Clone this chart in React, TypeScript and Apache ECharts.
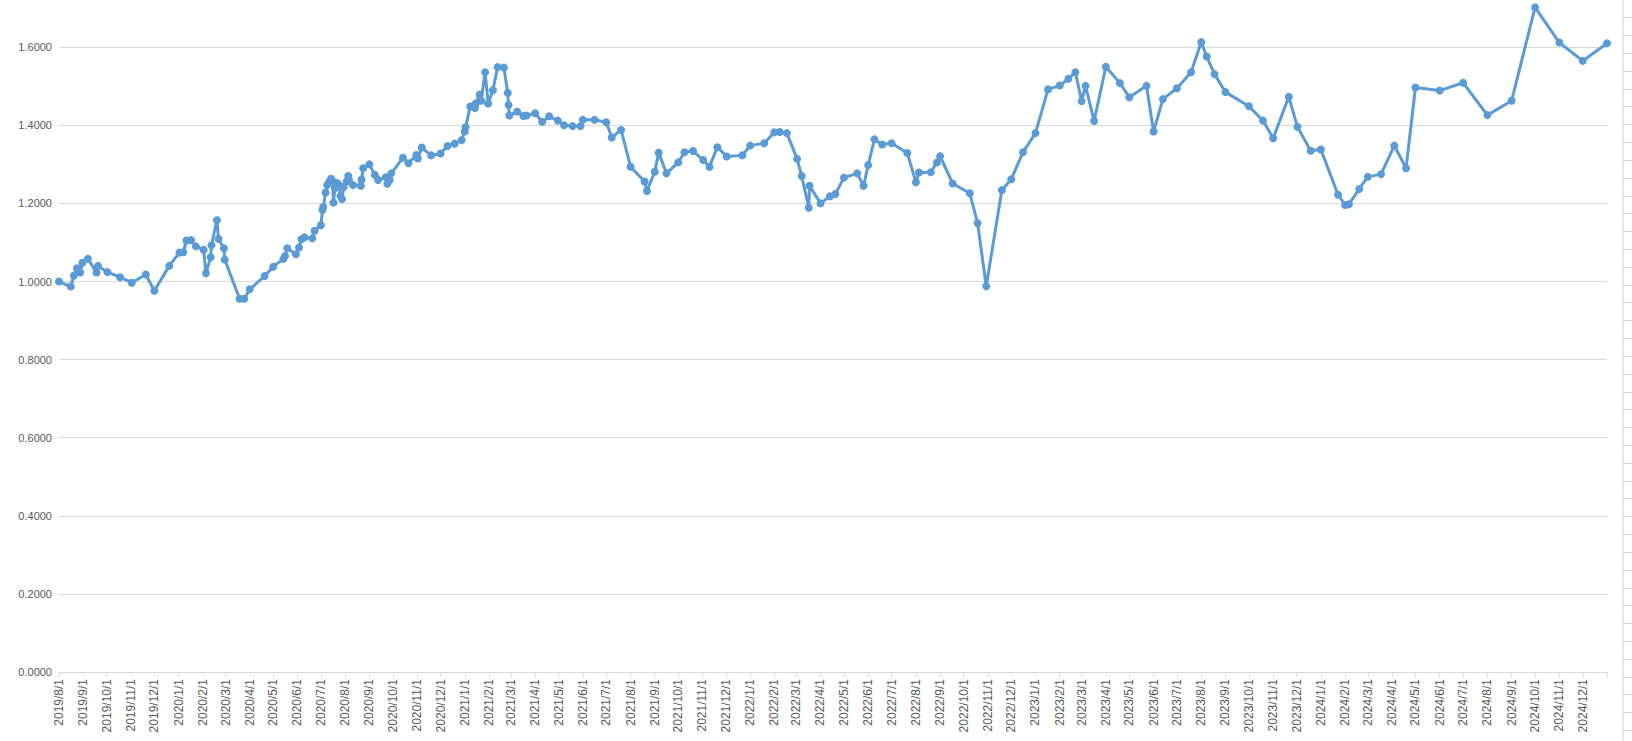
import React, { useEffect, useRef } from "react";
import * as echarts from "echarts";

const dates: string[] = [
  "2019-08-01","2019-08-16","2019-08-20","2019-08-24","2019-08-28","2019-08-31","2019-09-07","2019-09-18","2019-09-20","2019-10-02",
  "2019-10-18","2019-11-02","2019-11-20","2019-12-01","2019-12-20","2020-01-02","2020-01-07","2020-01-11","2020-01-17","2020-01-23",
  "2020-02-02","2020-02-05","2020-02-11","2020-02-12","2020-02-19","2020-02-21","2020-02-28","2020-02-29","2020-03-19","2020-03-25",
  "2020-04-01","2020-04-20","2020-05-01","2020-05-14","2020-05-16","2020-05-19","2020-05-30","2020-06-03","2020-06-06","2020-06-10",
  "2020-06-20","2020-06-23","2020-07-01","2020-07-03","2020-07-04","2020-07-07","2020-07-09","2020-07-12","2020-07-14","2020-07-16",
  "2020-07-17","2020-07-19","2020-07-22","2020-07-24","2020-07-26","2020-07-28","2020-07-30","2020-08-03","2020-08-05","2020-08-06",
  "2020-08-11","2020-08-21","2020-08-22","2020-08-24","2020-09-01","2020-09-08","2020-09-12","2020-09-22","2020-09-24","2020-09-27",
  "2020-09-29","2020-10-14","2020-10-21","2020-10-31","2020-11-02","2020-11-07","2020-11-19","2020-12-01","2020-12-10","2020-12-19",
  "2020-12-28","2021-01-01","2021-01-02","2021-01-08","2021-01-14","2021-01-15","2021-01-20","2021-01-22","2021-01-27","2021-01-31",
  "2021-02-06","2021-02-12","2021-02-20","2021-02-25","2021-02-26","2021-02-27","2021-03-09","2021-03-17","2021-03-21","2021-04-01",
  "2021-04-10","2021-04-19","2021-04-30","2021-05-08","2021-05-19","2021-05-29","2021-06-01","2021-06-16","2021-07-01","2021-07-08",
  "2021-07-20","2021-08-01","2021-08-19","2021-08-22","2021-09-01","2021-09-06","2021-09-16","2021-10-01","2021-10-09","2021-10-20",
  "2021-11-02","2021-11-10","2021-11-20","2021-12-02","2021-12-22","2022-01-01","2022-01-19","2022-02-01","2022-02-08","2022-02-17",
  "2022-03-02","2022-03-08","2022-03-17","2022-03-18","2022-04-01","2022-04-13","2022-04-20","2022-05-01","2022-05-18","2022-05-26",
  "2022-06-01","2022-06-09","2022-06-19","2022-07-01","2022-07-21","2022-08-01","2022-08-05","2022-08-20","2022-08-28","2022-09-01",
  "2022-09-17","2022-10-09","2022-10-19","2022-10-30","2022-11-19","2022-12-01","2022-12-16","2023-01-01","2023-01-17","2023-02-01",
  "2023-02-12","2023-02-21","2023-03-01","2023-03-06","2023-03-17","2023-04-01","2023-04-19","2023-05-01","2023-05-23","2023-06-01",
  "2023-06-13","2023-07-01","2023-07-19","2023-08-01","2023-08-08","2023-08-18","2023-09-01","2023-10-01","2023-10-19","2023-11-01",
  "2023-11-21","2023-12-02","2023-12-19","2024-01-01","2024-01-23","2024-02-01","2024-02-06","2024-02-19","2024-03-01","2024-03-18",
  "2024-04-04","2024-04-19","2024-05-01","2024-06-01","2024-07-01","2024-08-01","2024-09-01","2024-10-01","2024-11-01","2024-12-01",
  "2025-01-01"
];

const values: number[] = [
  1.000,0.987,1.015,1.034,1.023,1.048,1.058,1.023,1.040,1.024,
  1.011,0.997,1.018,0.976,1.040,1.074,1.075,1.105,1.106,1.090,
  1.081,1.021,1.062,1.093,1.157,1.109,1.085,1.056,0.956,0.956,
  0.980,1.014,1.038,1.058,1.065,1.085,1.070,1.087,1.108,1.113,
  1.111,1.130,1.144,1.183,1.191,1.228,1.247,1.256,1.263,1.257,
  1.202,1.239,1.252,1.247,1.219,1.211,1.242,1.256,1.270,1.260,
  1.247,1.245,1.261,1.290,1.300,1.273,1.260,1.267,1.250,1.260,
  1.277,1.317,1.303,1.324,1.315,1.343,1.323,1.328,1.347,1.353,
  1.362,1.384,1.395,1.448,1.444,1.456,1.479,1.463,1.536,1.456,
  1.490,1.549,1.548,1.483,1.452,1.425,1.435,1.424,1.425,1.431,
  1.409,1.423,1.412,1.400,1.398,1.398,1.414,1.414,1.408,1.369,
  1.388,1.294,1.256,1.232,1.281,1.330,1.277,1.305,1.331,1.334,
  1.311,1.294,1.344,1.320,1.323,1.348,1.354,1.382,1.383,1.380,
  1.314,1.270,1.189,1.245,1.200,1.218,1.224,1.266,1.277,1.245,
  1.298,1.364,1.351,1.354,1.329,1.254,1.279,1.280,1.305,1.321,
  1.251,1.226,1.149,0.988,1.234,1.262,1.331,1.380,1.492,1.502,
  1.519,1.536,1.462,1.501,1.411,1.550,1.508,1.472,1.501,1.384,
  1.467,1.495,1.536,1.613,1.576,1.531,1.485,1.449,1.412,1.367,
  1.473,1.396,1.335,1.338,1.222,1.196,1.198,1.237,1.268,1.275,
  1.348,1.290,1.497,1.489,1.509,1.426,1.463,1.702,1.612,1.565,
  1.610
];

// x-axis range (ticks on the first day of each month) and y-axis ticks
const axisStart = "2019-08-01";
const axisEnd = "2025-01-01";
const yTicks: number[] = [0, 0.2, 0.4, 0.6, 0.8, 1.0, 1.2, 1.4, 1.6];
const yTop = 1.7209; // value at the top edge of the (cropped) plot area

function ts(s: string): number {
  const [y, m, d] = s.split("-").map(Number);
  return new Date(y, m - 1, d).getTime();
}

function monthStarts(from: string, to: string): number[] {
  const out: number[] = [];
  const [fy, fm] = from.split("-").map(Number);
  const end = ts(to);
  let y = fy, m = fm - 1;
  while (true) {
    const t = new Date(y, m, 1).getTime();
    if (t > end) break;
    out.push(t);
    m++;
    if (m > 11) { m = 0; y++; }
  }
  return out;
}

export default function App() {
  const ref = useRef<HTMLDivElement>(null);
  useEffect(() => {
    if (!ref.current) return;
    const chart = echarts.init(ref.current, undefined, { renderer: "svg" });
    const tickVals = monthStarts(axisStart, axisEnd);
    const labelVals = tickVals.slice(0, tickVals.length - 1);
    const grey = "#d9d9d9";
    const deco: any[] = [
      { type: "line", shape: { x1: 1623, y1: 0, x2: 1623, y2: 741 }, style: { stroke: "#d2d2de", lineWidth: 1 } },
    ];
    for (let k = 0; k < 41; k++) {
      const y = Math.round(17.3 + k * 17.82) + 0.5;
      deco.push({ type: "line", shape: { x1: 1623, y1: y, x2: 1632, y2: y }, style: { stroke: "#d2d2de", lineWidth: 1 } });
    }
    chart.setOption({
      animation: false,
      backgroundColor: "#ffffff",
      grid: { left: 59, right: 25, top: 0, bottom: 69, containLabel: false },
      xAxis: {
        type: "value",
        min: ts(axisStart),
        max: ts(axisEnd),
        scale: true,
        axisLine: { show: true, lineStyle: { color: grey, width: 1 } },
        axisTick: { show: true, customValues: tickVals, length: 5, lineStyle: { color: grey } },
        splitLine: { show: false },
        axisLabel: {
          customValues: labelVals,
          rotate: 90,
          margin: 7,
          fontSize: 12,
          fontFamily: "Liberation Sans",
          color: "#595959",
          hideOverlap: false,
          showMinLabel: true,
          showMaxLabel: true,
          formatter: (v: number) => {
            const d = new Date(v);
            return `${d.getFullYear()}/${d.getMonth() + 1}/${d.getDate()}`;
          },
        },
      },
      yAxis: {
        type: "value",
        min: 0,
        max: yTop,
        axisLine: { show: false },
        axisTick: { show: false, customValues: yTicks },
        splitLine: { show: true, lineStyle: { color: grey, width: 1 } },
        axisLabel: {
          customValues: yTicks,
          margin: 7,
          fontSize: 11,
          fontFamily: "Liberation Sans",
          color: "#595959",
          formatter: (v: number) => v.toFixed(4),
        },
      },
      series: [
        {
          type: "line",
          data: dates.map((d, i) => [ts(d), values[i]]),
          symbol: "circle",
          symbolSize: 8,
          showAllSymbol: true,
          clip: false,
          lineStyle: { color: "#5b9bd5", width: 3 },
          itemStyle: { color: "#5b9bd5" },
        },
      ],
      graphic: deco,
    });
    return () => chart.dispose();
  }, []);
  return (
    <div
      ref={ref}
      style={{ position: "absolute", left: 0, top: 0, width: 1632, height: 741, background: "#fff" }}
    />
  );
}
